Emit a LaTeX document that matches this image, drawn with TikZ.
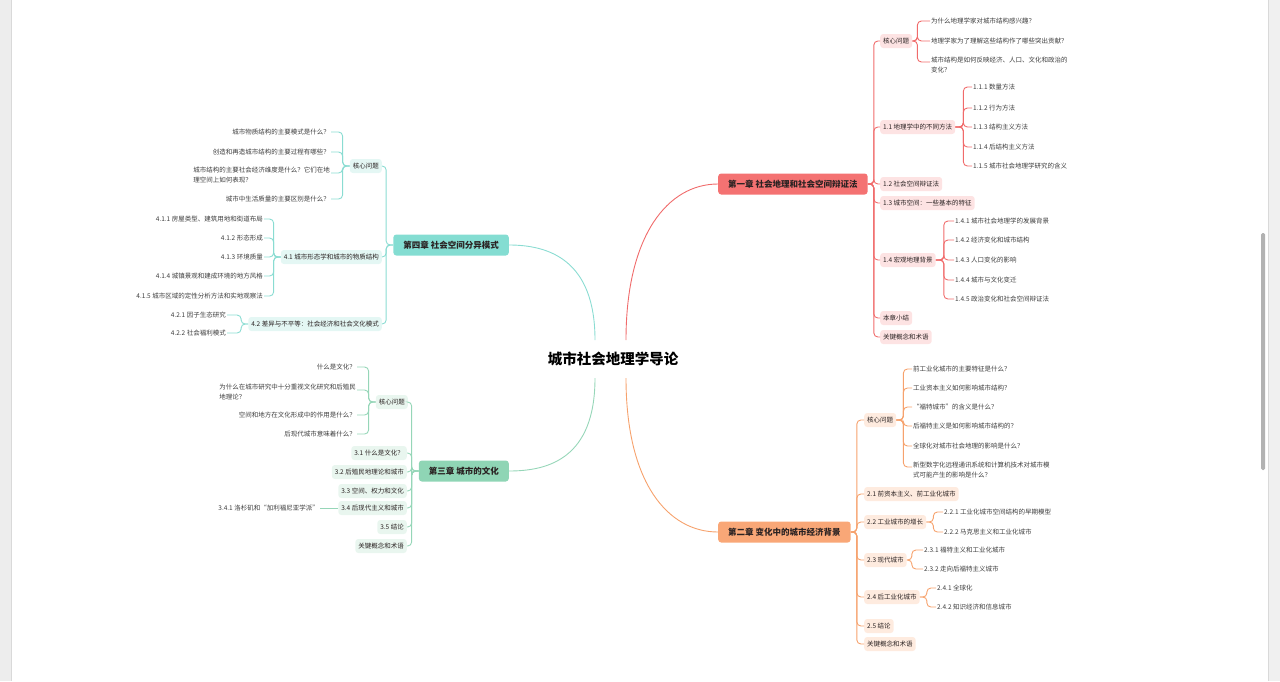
\documentclass[tikz,border=0pt]{standalone}
\usepackage{fontspec}
\setmainfont{Noto Sans CJK SC}

\definecolor{redline}{HTML}{F06B6B}
\definecolor{redfill}{HTML}{F47272}
\definecolor{redsoft}{HTML}{FDE3E3}
\definecolor{orgline}{HTML}{F6A26D}
\definecolor{orgfill}{HTML}{F9A777}
\definecolor{orgsoft}{HTML}{FEEBDF}
\definecolor{grnline}{HTML}{96D6B8}
\definecolor{grnfill}{HTML}{8FD5B5}
\definecolor{grnsoft}{HTML}{E9F6EF}
\definecolor{tealline}{HTML}{8ADCD2}
\definecolor{tealfill}{HTML}{84DDD2}
\definecolor{tealsoft}{HTML}{E4F7F4}
\definecolor{inkdark}{HTML}{2A2222}
\definecolor{inkleaf}{HTML}{3C3C3C}

\tikzset{
  root/.style = {font=\fontsize{14.5}{16}\selectfont\bfseries, text=black, inner sep=2pt},
  chapter/.style = {rounded corners=3pt, font=\fontsize{8.5}{10}\selectfont\bfseries, text=inkdark, inner xsep=10pt, minimum height=21pt},
  section/.style = {rounded corners=3pt, font=\fontsize{6.5}{8}\selectfont, text=inkdark, inner xsep=3pt, minimum height=14pt},
  leaf/.style = {font=\fontsize{6.5}{10.5}\selectfont, text=inkleaf, inner sep=1pt, align=left},
  link/.style = {line width=0.9pt, rounded corners=4pt},
}

\begin{document}
\begin{tikzpicture}[x=1pt, y=-1pt]
  \useasboundingbox (0,0) rectangle (1280,681);
  \fill[black!7] (0,0) rectangle (11,681);
  \draw[black!15] (11,0) -- (11,681);
  \fill[black!6] (1268,0) rectangle (1280,681);
  \draw[black!15] (1268,0) -- (1268,681);
  \fill[black!30, rounded corners=1.5pt] (1261,233) rectangle (1265,470);

  \node[root] (root) at (613,359) {城市社会地理学导论};
  \coordinate (rne) at ([xshift=13pt, yshift=19pt]root.center);
  \coordinate (rse) at ([xshift=13pt, yshift=-19pt]root.center);
  \coordinate (rnw) at ([xshift=-18pt, yshift=19pt]root.center);
  \coordinate (rsw) at ([xshift=-18pt, yshift=-19pt]root.center);

  \node[chapter, fill=redfill, anchor=west] (c1) at (718,184) {第一章 社会地理和社会空间辩证法};
  \node[chapter, fill=orgfill, anchor=west] (c2) at (718,532) {第二章 变化中的城市经济背景};
  \node[chapter, fill=grnfill, anchor=east] (c3) at (509,471) {第三章 城市的文化};
  \node[chapter, fill=tealfill, anchor=east] (c4) at (509,245) {第四章 社会空间分异模式};

  \draw[redline, line width=0.9pt] (rne) .. controls +(0,-105) and +(-50,0) .. (c1.west);
  \draw[orgline, line width=0.9pt] (rse) .. controls +(0,105) and +(-50,0) .. (c2.west);
  \draw[grnline, line width=0.9pt] (rsw) .. controls +(0,80) and +(40,0) .. (c3.east);
  \draw[tealline, line width=0.9pt] (rnw) .. controls +(0,-80) and +(40,0) .. (c4.east);

  \node[section, fill=redsoft, anchor=west] (c1q) at (880,41) {核心问题};
  \node[section, fill=redsoft, anchor=west] (s11) at (880,127) {1.1 地理学中的不同方法};
  \node[section, fill=redsoft, anchor=west] (s12) at (880,184) {1.2 社会空间辩证法};
  \node[section, fill=redsoft, anchor=west] (s13) at (880,203) {1.3 城市空间：一些基本的特征};
  \node[section, fill=redsoft, anchor=west] (s14) at (880,260) {1.4 宏观地理背景};
  \node[section, fill=redsoft, anchor=west] (c1sum) at (880,318) {本章小结};
  \node[section, fill=redsoft, anchor=west] (c1key) at (880,337) {关键概念和术语};

  \node[leaf, anchor=west] (q11) at (930,21) {为什么地理学家对城市结构感兴趣？};
  \node[leaf, anchor=west] (q12) at (930,41) {地理学家为了理解这些结构作了哪些突出贡献？};
  \node[leaf, anchor=west] (q13) at (930,65) {城市结构是如何反映经济、人口、文化和政治的\\变化？};
  \node[leaf, anchor=west] (l111) at (972,87) {1.1.1 数量方法};
  \node[leaf, anchor=west] (l112) at (972,108) {1.1.2 行为方法};
  \node[leaf, anchor=west] (l113) at (972,127) {1.1.3 结构主义方法};
  \node[leaf, anchor=west] (l114) at (972,147) {1.1.4 后结构主义方法};
  \node[leaf, anchor=west] (l115) at (972,166) {1.1.5 城市社会地理学研究的含义};
  \node[leaf, anchor=west] (l141) at (954,221) {1.4.1 城市社会地理学的发展背景};
  \node[leaf, anchor=west] (l142) at (954,240) {1.4.2 经济变化和城市结构};
  \node[leaf, anchor=west] (l143) at (954,260) {1.4.3 人口变化的影响};
  \node[leaf, anchor=west] (l144) at (954,280) {1.4.4 城市与文化变迁};
  \node[leaf, anchor=west] (l145) at (954,299) {1.4.5 政治变化和社会空间辩证法};

  \draw[link, redline] (c1.east) -- ++(6,0) |- (c1q.west);
  \draw[link, redline] (c1.east) -- ++(6,0) |- (s11.west);
  \draw[link, redline] (c1.east) -- ++(6,0) |- (s12.west);
  \draw[link, redline] (c1.east) -- ++(6,0) |- (s13.west);
  \draw[link, redline] (c1.east) -- ++(6,0) |- (s14.west);
  \draw[link, redline] (c1.east) -- ++(6,0) |- (c1sum.west);
  \draw[link, redline] (c1.east) -- ++(6,0) |- (c1key.west);
  \draw[link, redline] (c1q.east) -- ++(5,0) |- (q11.west);
  \draw[link, redline] (c1q.east) -- ++(5,0) |- (q12.west);
  \draw[link, redline] (c1q.east) -- ++(5,0) |- ([yshift=3pt]q13.west);
  \draw[link, redline] (s11.east) -- ++(8,0) |- (l111.west);
  \draw[link, redline] (s11.east) -- ++(8,0) |- (l112.west);
  \draw[link, redline] (s11.east) -- ++(8,0) |- (l113.west);
  \draw[link, redline] (s11.east) -- ++(8,0) |- (l114.west);
  \draw[link, redline] (s11.east) -- ++(8,0) |- (l115.west);
  \draw[link, redline] (s14.east) -- ++(8,0) |- (l141.west);
  \draw[link, redline] (s14.east) -- ++(8,0) |- (l142.west);
  \draw[link, redline] (s14.east) -- ++(8,0) |- (l143.west);
  \draw[link, redline] (s14.east) -- ++(8,0) |- (l144.west);
  \draw[link, redline] (s14.east) -- ++(8,0) |- (l145.west);

  \node[section, fill=orgsoft, anchor=west] (c2q) at (864,420) {核心问题};
  \node[section, fill=orgsoft, anchor=west] (s21) at (864,494) {2.1 前资本主义、前工业化城市};
  \node[section, fill=orgsoft, anchor=west] (s22) at (864,522) {2.2 工业城市的增长};
  \node[section, fill=orgsoft, anchor=west] (s23) at (864,560) {2.3 现代城市};
  \node[section, fill=orgsoft, anchor=west] (s24) at (864,597) {2.4 后工业化城市};
  \node[section, fill=orgsoft, anchor=west] (s25) at (864,626) {2.5 结论};
  \node[section, fill=orgsoft, anchor=west] (c2key) at (864,644) {关键概念和术语};

  \node[leaf, anchor=west] (q21) at (912,369) {前工业化城市的主要特征是什么？};
  \node[leaf, anchor=west] (q22) at (912,388) {工业资本主义如何影响城市结构？};
  \node[leaf, anchor=west] (q23) at (912,407) {“福特城市”的含义是什么？};
  \node[leaf, anchor=west] (q24) at (912,426) {后福特主义是如何影响城市结构的？};
  \node[leaf, anchor=west] (q25) at (912,446) {全球化对城市社会地理的影响是什么？};
  \node[leaf, anchor=west] (q26) at (912,470) {新型数字化远程通讯系统和计算机技术对城市模\\式可能产生的影响是什么？};
  \node[leaf, anchor=west] (l221) at (943,512) {2.2.1 工业化城市空间结构的早期模型};
  \node[leaf, anchor=west] (l222) at (943,532) {2.2.2 马克思主义和工业化城市};
  \node[leaf, anchor=west] (l231) at (923,550) {2.3.1 福特主义和工业化城市};
  \node[leaf, anchor=west] (l232) at (923,569) {2.3.2 走向后福特主义城市};
  \node[leaf, anchor=west] (l241) at (936,588) {2.4.1 全球化};
  \node[leaf, anchor=west] (l242) at (936,607) {2.4.2 知识经济和信息城市};

  \draw[link, orgline] (c2.east) -- ++(6,0) |- (c2q.west);
  \draw[link, orgline] (c2.east) -- ++(6,0) |- (s21.west);
  \draw[link, orgline] (c2.east) -- ++(6,0) |- (s22.west);
  \draw[link, orgline] (c2.east) -- ++(6,0) |- (s23.west);
  \draw[link, orgline] (c2.east) -- ++(6,0) |- (s24.west);
  \draw[link, orgline] (c2.east) -- ++(6,0) |- (s25.west);
  \draw[link, orgline] (c2.east) -- ++(6,0) |- (c2key.west);
  \draw[link, orgline] (c2q.east) -- ++(7,0) |- (q21.west);
  \draw[link, orgline] (c2q.east) -- ++(7,0) |- (q22.west);
  \draw[link, orgline] (c2q.east) -- ++(7,0) |- (q23.west);
  \draw[link, orgline] (c2q.east) -- ++(7,0) |- (q24.west);
  \draw[link, orgline] (c2q.east) -- ++(7,0) |- (q25.west);
  \draw[link, orgline] (c2q.east) -- ++(7,0) |- ([yshift=3pt]q26.west);
  \draw[link, orgline] (s22.east) -- ++(7,0) |- (l221.west);
  \draw[link, orgline] (s22.east) -- ++(7,0) |- (l222.west);
  \draw[link, orgline] (s23.east) -- ++(5,0) |- (l231.west);
  \draw[link, orgline] (s23.east) -- ++(5,0) |- (l232.west);
  \draw[link, orgline] (s24.east) -- ++(7,0) |- (l241.west);
  \draw[link, orgline] (s24.east) -- ++(7,0) |- (l242.west);

  \node[section, fill=grnsoft, anchor=east] (c3q) at (408,402) {核心问题};
  \node[section, fill=grnsoft, anchor=east] (s31) at (407,453) {3.1 什么是文化？};
  \node[section, fill=grnsoft, anchor=east] (s32) at (407,472) {3.2 后殖民地理论和城市};
  \node[section, fill=grnsoft, anchor=east] (s33) at (407,491) {3.3 空间、权力和文化};
  \node[section, fill=grnsoft, anchor=east] (s34) at (407,508) {3.4 后现代主义和城市};
  \node[section, fill=grnsoft, anchor=east] (s35) at (407,527) {3.5 结论};
  \node[section, fill=grnsoft, anchor=east] (c3key) at (407,546) {关键概念和术语};

  \node[leaf, anchor=east] (q31) at (357,367) {什么是文化？};
  \node[leaf, anchor=east] (q32) at (357,392) {为什么在城市研究中十分重视文化研究和后殖民\\地理论？};
  \node[leaf, anchor=east] (q33) at (357,415) {空间和地方在文化形成中的作用是什么？};
  \node[leaf, anchor=east] (q34) at (357,434) {后现代城市意味着什么？};
  \node[leaf, anchor=east] (l341) at (320,508) {3.4.1 洛杉矶和“加利福尼亚学派”};

  \draw[link, grnline] (c3.west) -- ++(-7,0) |- (c3q.east);
  \draw[link, grnline] (c3.west) -- ++(-7,0) |- (s31.east);
  \draw[link, grnline] (c3.west) -- ++(-7,0) |- (s32.east);
  \draw[link, grnline] (c3.west) -- ++(-7,0) |- (s33.east);
  \draw[link, grnline] (c3.west) -- ++(-7,0) |- (s34.east);
  \draw[link, grnline] (c3.west) -- ++(-7,0) |- (s35.east);
  \draw[link, grnline] (c3.west) -- ++(-7,0) |- (c3key.east);
  \draw[link, grnline] (c3q.west) -- ++(-7,0) |- (q31.east);
  \draw[link, grnline] (c3q.west) -- ++(-7,0) |- ([yshift=2pt]q32.east);
  \draw[link, grnline] (c3q.west) -- ++(-7,0) |- (q33.east);
  \draw[link, grnline] (c3q.west) -- ++(-7,0) |- (q34.east);
  \draw[link, grnline] (s34.west) -- (l341.east);

  \node[section, fill=tealsoft, anchor=east] (c4q) at (382,166) {核心问题};
  \node[section, fill=tealsoft, anchor=east] (s41) at (382,257) {4.1 城市形态学和城市的物质结构};
  \node[section, fill=tealsoft, anchor=east] (s42) at (382,324) {4.2 差异与不平等：社会经济和社会文化模式};

  \node[leaf, anchor=east] (q41) at (331,132) {城市物质结构的主要模式是什么？};
  \node[leaf, anchor=east] (q42) at (331,152) {创造和再造城市结构的主要过程有哪些？};
  \node[leaf, anchor=east] (q43) at (331,175) {城市结构的主要社会经济维度是什么？它们在地\\理空间上如何表现？};
  \node[leaf, anchor=east] (q44) at (331,199) {城市中生活质量的主要区别是什么？};
  \node[leaf, anchor=east] (l411) at (264,219) {4.1.1 房屋类型、建筑用地和街道布局};
  \node[leaf, anchor=east] (l412) at (264,238) {4.1.2 形态形成};
  \node[leaf, anchor=east] (l413) at (264,257) {4.1.3 环境质量};
  \node[leaf, anchor=east] (l414) at (264,276) {4.1.4 城镇景观和建成环境的地方风格};
  \node[leaf, anchor=east] (l415) at (264,296) {4.1.5 城市区域的定性分析方法和实地观察法};
  \node[leaf, anchor=east] (l421) at (227,315) {4.2.1 因子生态研究};
  \node[leaf, anchor=east] (l422) at (227,333) {4.2.2 社会福利模式};

  \draw[link, tealline] (c4.west) -- ++(-7,0) |- (c4q.east);
  \draw[link, tealline] (c4.west) -- ++(-7,0) |- (s41.east);
  \draw[link, tealline] (c4.west) -- ++(-7,0) |- (s42.east);
  \draw[link, tealline] (c4q.west) -- ++(-7,0) |- (q41.east);
  \draw[link, tealline] (c4q.west) -- ++(-7,0) |- (q42.east);
  \draw[link, tealline] (c4q.west) -- ++(-7,0) |- ([yshift=2pt]q43.east);
  \draw[link, tealline] (c4q.west) -- ++(-7,0) |- (q44.east);
  \draw[link, tealline] (s41.west) -- ++(-7,0) |- (l411.east);
  \draw[link, tealline] (s41.west) -- ++(-7,0) |- (l412.east);
  \draw[link, tealline] (s41.west) -- ++(-7,0) |- (l413.east);
  \draw[link, tealline] (s41.west) -- ++(-7,0) |- (l414.east);
  \draw[link, tealline] (s41.west) -- ++(-7,0) |- (l415.east);
  \draw[link, tealline] (s42.west) -- ++(-7,0) |- (l421.east);
  \draw[link, tealline] (s42.west) -- ++(-7,0) |- (l422.east);
\end{tikzpicture}
\end{document}
